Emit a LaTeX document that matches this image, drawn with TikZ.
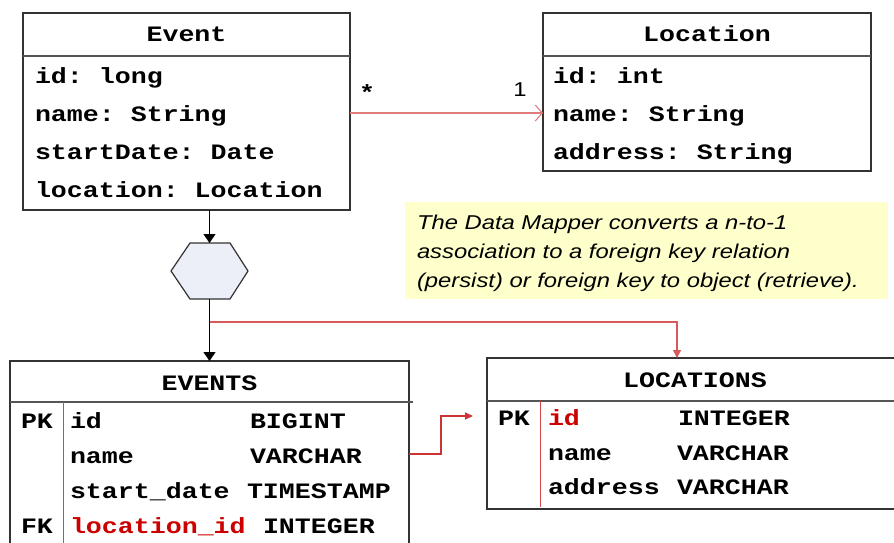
\documentclass[tikz,border=0pt]{standalone}
\usepackage{fontspec}
\setmainfont{Liberation Sans}
\newfontfamily\cdfam[FakeStretch=1.21]{Liberation Mono}
\newfontfamily\ntfam[FakeStretch=1.19]{Liberation Sans}
\newcommand\cdfont{\cdfam\bfseries\fontsize{22}{26}\selectfont\frenchspacing}
\newcommand\ntfont{\ntfam\itshape\fontsize{20}{29}\selectfont}
\newcommand\lbfont{\ntfam\fontsize{20}{24}\selectfont}
\usetikzlibrary{arrows.meta}
\definecolor{boxgray}{HTML}{333333}
\definecolor{rulegray}{HTML}{555555}
\definecolor{hexfill}{HTML}{ECEEF8}
\definecolor{noteyellow}{HTML}{FFFFCC}
\definecolor{keyred}{HTML}{D04848}
\definecolor{assocred}{HTML}{E07C7C}
\definecolor{branchred}{HTML}{D85A5A}
\definecolor{linkred}{HTML}{CC3333}
\definecolor{textred}{HTML}{CC0000}
\begin{document}
\begin{tikzpicture}[x=1pt,y=-1pt,
  box/.style={draw=boxgray, line width=1.4pt, fill=white, inner sep=0pt, outer sep=0pt, anchor=north west},
  rule/.style={draw=rulegray, line width=1.2pt},
  code/.style={font=\cdfont, inner sep=0pt, outer sep=0pt, anchor=base west},
  title/.style={code, anchor=base},
  fkname/.style={code, text=textred},
  keycol/.style={draw=keyred, line width=1pt},
  flow/.style={draw=black, line width=1.2pt, -{Triangle[length=9pt,width=12pt]}},
  assoc/.style={draw=assocred, line width=1.1pt, -{Straight Barb[length=7pt,width=16pt]}},
  branch/.style={draw=branchred, line width=1.2pt, -{Triangle[length=8pt,width=8pt]}},
  fklink/.style={draw=linkred, line width=1.2pt, -{Triangle[length=8pt,width=7pt]}},
  notetext/.style={font=\ntfont, inner sep=0pt, outer sep=0pt, anchor=base west},
]
\useasboundingbox (0,0) rectangle (894,543);
\clip (0,0) rectangle (894,543);

% domain class Event
\node[box, minimum width=327pt, minimum height=197pt] (event) at (23,13) {};
\node[title] (eventT) at (186.5,42) {Event};
\draw[rule] (event.west |- 0,56) -- (event.east |- 0,56);
\node[code] (e1) at (35,83) {id: long};
\node[code] (e2) at (35,121) {name: String};
\node[code] (e3) at (35,159) {startDate: Date};
\node[code] (e4) at (35,197) {location: Location};

% domain class Location
\node[box, minimum width=328pt, minimum height=158pt] (location) at (543,13) {};
\node[title] (locationT) at (707,42) {Location};
\draw[rule] (location.west |- 0,56) -- (location.east |- 0,56);
\node[code] (l1) at (553,83) {id: int};
\node[code] (l2) at (553,121) {name: String};
\node[code] (l3) at (553,159) {address: String};

% n-to-1 association
\draw[assoc] (event.east |- 0,113) -- (location.west |- 0,113);
\node[code, anchor=base] (many) at (367,100) {*};
\node[font=\lbfont, inner sep=0pt, anchor=base] (one) at (520,96) {1};

% explanatory note
\node[fill=noteyellow, inner sep=0pt, outer sep=0pt, anchor=north west,
      minimum width=483pt, minimum height=97pt] (note) at (405,202) {};
\node[notetext] (n1) at (417,229) {The Data Mapper converts a n-to-1};
\node[notetext] (n2) at (417,258) {association to a foreign key relation};
\node[notetext] (n3) at (417,287) {(persist) or foreign key to object (retrieve).};

% data mapper
\node[inner sep=0pt, outer sep=0pt, minimum width=77pt, minimum height=56pt] (mapper) at (209.5,271) {};
\filldraw[fill=hexfill, draw=boxgray, line width=1.2pt]
  (mapper.west) -- ([xshift=19pt]mapper.north west) -- ([xshift=-18pt]mapper.north east)
  -- (mapper.east) -- ([xshift=-18pt]mapper.south east) -- ([xshift=19pt]mapper.south west) -- cycle;

% table EVENTS
\node[box, minimum width=399pt, minimum height=200pt] (events) at (10,361) {};
\node[title] (eventsT) at (209.5,390) {EVENTS};
\draw[rule] (events.west |- 0,402) -- (413,402);
\draw[keycol] (63,402) -- (63,548);
\node[code] (t1k) at (21,428) {PK};
\node[code] (t1a) at (70,428) {id};
\node[code] (t1b) at (250,428) {BIGINT};
\node[code] (t2a) at (70,463) {name};
\node[code] (t2b) at (250,463) {VARCHAR};
\node[code] (t3a) at (70,498) {start\_date};
\node[code] (t3b) at (247,498) {TIMESTAMP};
\node[code] (t4k) at (21,533) {FK};
\node[fkname] (t4a) at (70,533) {location\_id};
\node[code] (t4b) at (263,533) {INTEGER};

% table LOCATIONS
\node[box, minimum width=420pt, minimum height=151pt] (locations) at (487,358) {};
\node[title] (locationsT) at (695,387) {LOCATIONS};
\draw[rule] (locations.west |- 0,401) -- (locations.east |- 0,401);
\draw[keycol] (540,401) -- (540,507);
\node[code] (u1k) at (498,425) {PK};
\node[fkname] (u1a) at (548,425) {id};
\node[code] (u1b) at (678,425) {INTEGER};
\node[code] (u2a) at (548,460) {name};
\node[code] (u2b) at (677,460) {VARCHAR};
\node[code] (u3a) at (548,494) {address};
\node[code] (u3b) at (677,494) {VARCHAR};

% mapping flow
\draw[flow] (mapper.north |- event.south) -- (mapper.north);
\draw[flow] (mapper.south) -- (mapper.south |- events.north);
\coordinate (split) at (mapper.south |- 0,322);
\draw[branch] (split) -| (locations.north west -| 677,0);

% foreign key reference
\coordinate (fkend) at (473,416);
\draw[fklink] (events.east |- 0,454) -- ++(32,0) |- (fkend);
\end{tikzpicture}
\end{document}
